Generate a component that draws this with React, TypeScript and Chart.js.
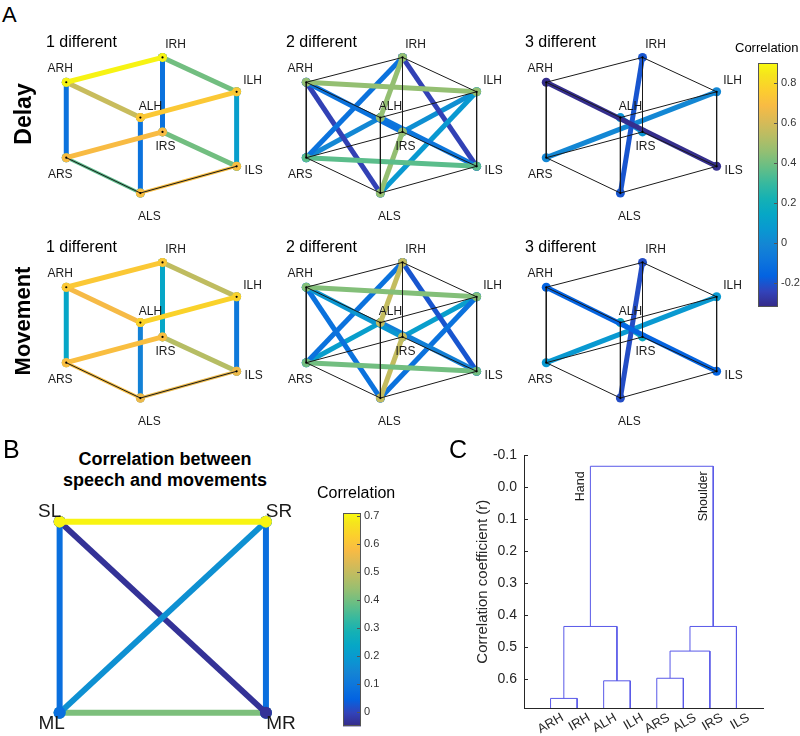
import React, { useEffect, useRef } from 'react';
import { Chart, registerables } from 'chart.js';

Chart.register(...registerables);
const FONT = '"Liberation Sans", Arial, Helvetica, sans-serif';
Chart.defaults.font.family = FONT;

// ---------------- Panel A data ----------------
const nodeNames = ['ARH', 'IRH', 'ILH', 'ALH', 'IRS', 'ARS', 'ALS', 'ILS'];
const nodeX = [0, 1.0, 1.77, 0.77, 1.0, 0, 0.77, 1.77];
const nodeY = [1.16, 1.42, 1.06, 0.79, 0.64, 0.37, 0, 0.28];

const edges1 = [['ARH', 'IRH'], ['ALH', 'ILH'], ['ARS', 'IRS'], ['ALS', 'ILS'], ['ARH', 'ALH'], ['IRH', 'ILH'], ['ARS', 'ALS'], ['IRS', 'ILS'], ['ARH', 'ARS'], ['IRH', 'IRS'], ['ALH', 'ALS'], ['ILH', 'ILS']];
const edges2 = [['ARH', 'ILH'], ['ALH', 'IRH'], ['ARS', 'ILS'], ['ALS', 'IRS'], ['ARH', 'IRS'], ['IRH', 'ARS'], ['ALH', 'ILS'], ['ILH', 'ALS'], ['ARH', 'ALS'], ['ALH', 'ARS'], ['IRH', 'ILS'], ['ILH', 'IRS']];
const edges3 = [['ARH', 'ILS'], ['IRH', 'ALS'], ['ALH', 'IRS'], ['ILH', 'ARS']];

const delay1 = [0.88, 0.74, 0.69, 0.70, 0.57, 0.40, 0.36, 0.40, -0.10, -0.10, -0.10, 0.10];
const delay2 = [0.46, 0.46, 0.36, 0.46, -0.10, -0.10, -0.08, 0.07, -0.25, 0.00, -0.25, 0.03];
const delay3 = [-0.31, -0.20, 0.05, 0.00];
const move1 = [0.74, 0.78, 0.70, 0.66, 0.68, 0.55, 0.70, 0.53, 0.14, 0.14, -0.03, -0.07];
const move2 = [0.43, 0.56, 0.40, 0.56, 0.06, -0.10, -0.04, -0.10, -0.10, 0.10, -0.20, 0.10];
const move3 = [-0.16, -0.22, 0.17, 0.07];

const corrRangeA = [-0.32, 0.9];
const corrTicksA = [-0.2, 0, 0.2, 0.4, 0.6, 0.8];
const panelTitles = ['1 different', '2 different', '3 different'];
const rowTitles = ['Delay', 'Movement'];

// ---------------- Panel B data ----------------
const nodeNamesB = ['SL', 'SR', 'ML', 'MR'];
const nodeXB = [0, 1, 0, 1];
const nodeYB = [1, 1, 0, 0];
const edgesB = [['SL', 'SR'], ['SL', 'ML'], ['SR', 'ML'], ['SL', 'MR'], ['SR', 'MR'], ['ML', 'MR']];
const valuesB = [0.70, 0.08, 0.17, -0.035, 0.08, 0.41];
const corrRangeB = [-0.05, 0.71];
const corrTicksB = [0, 0.1, 0.2, 0.3, 0.4, 0.5, 0.6, 0.7];
const titleB = ['Correlation between', 'speech and movements'];

// ---------------- Panel C data ----------------
const leafLabels = ['ARH', 'IRH', 'ALH', 'ILH', 'ARS', 'ALS', 'IRS', 'ILS'];
const mergeA = [0, 2, 4, 10, 11, 8, 13];
const mergeB = [1, 3, 5, 6, 7, 9, 12];
const mergeHeight = [0.66, 0.605, 0.597, 0.512, 0.435, 0.435, -0.066];
const leafLevel = 0.69;
const yRangeC = [-0.1, 0.69];
const yTicksC = [-0.1, 0, 0.1, 0.2, 0.3, 0.4, 0.5, 0.6];
const groupLabels = ['Hand', 'Shoulder'];
const groupCluster = [13, 12];

// ---------------- colormap ----------------
const parulaRGB = [
  [0.2081, 0.1663, 0.5292], [0.1959, 0.2645, 0.7279], [0.0117, 0.3875, 0.8820], [0.0498, 0.4586, 0.8641],
  [0.0793, 0.5200, 0.8312], [0.0343, 0.5966, 0.8199], [0.0228, 0.6535, 0.7768], [0.0843, 0.6928, 0.7062],
  [0.2178, 0.7250, 0.6193], [0.3953, 0.7459, 0.5244], [0.5709, 0.7485, 0.4494], [0.7184, 0.7411, 0.3905],
  [0.8507, 0.7299, 0.3360], [0.9739, 0.7314, 0.2666], [0.9880, 0.8066, 0.1794], [0.9589, 0.8949, 0.1132],
  [0.9763, 0.9831, 0.0538],
];
const parulaPos = [0, 4, 8, 12, 16, 20, 24, 28, 32, 36, 40, 44, 48, 52, 56, 60, 63].map((i) => i / 63);

function parula(t: number): string {
  const u = Math.max(0, Math.min(1, t));
  let k = 0;
  while (k < parulaPos.length - 2 && u > parulaPos[k + 1]) k++;
  const f = (u - parulaPos[k]) / (parulaPos[k + 1] - parulaPos[k]);
  const a = parulaRGB[k], b = parulaRGB[k + 1];
  const c = a.map((v, j) => Math.round(255 * (v + (b[j] - v) * f)));
  return `rgb(${c[0]},${c[1]},${c[2]})`;
}

// ---------------- styles ----------------
const labelOffsetA: Record<string, [number, number]> = {
  ARH: [-6, -14], IRH: [13, -13], ILH: [16, -11], ALH: [10, -11],
  IRS: [3, 15], ARS: [-6, 17], ALS: [9, 24], ILS: [17, 4],
};
const labelOffsetB: Record<string, [number, number]> = { SL: [-10, -10], SR: [13, -10], ML: [-8, 11], MR: [15, 11] };
const thinEdgesA = ['ARS-ALS', 'ALS-ILS'];
const WIRE = '#1a1a1a';
const AXIS = '#262626';

function nodeLabelPlugin(names: string[], xs: number[], ys: number[], offsets: Record<string, [number, number]>, font: string, color: string) {
  return {
    id: 'nodeLabels',
    afterDatasetsDraw(chart: any) {
      const { ctx, scales } = chart;
      ctx.save();
      ctx.font = font;
      ctx.fillStyle = color;
      ctx.textAlign = 'center';
      ctx.textBaseline = 'middle';
      names.forEach((n, i) => {
        const [dx, dy] = offsets[n];
        ctx.fillText(n, scales.x.getPixelForValue(xs[i]) + dx, scales.y.getPixelForValue(ys[i]) + dy);
      });
      ctx.restore();
    },
  };
}

const baseOptions = {
  responsive: false,
  animation: false,
  events: [],
  plugins: { legend: { display: false }, tooltip: { enabled: false }, title: { display: false } },
};

function graphConfig(names: string[], xs: number[], ys: number[], edges: string[][], vals: number[], range: number[],
  opts: { level: number; width: number; radius: number; xr: number[]; yr: number[]; offsets: Record<string, [number, number]>; font: string; wire: boolean }) {
  const P = (n: string) => { const i = names.indexOf(n); return { x: xs[i], y: ys[i] }; };
  const datasets: any[] = [];
  datasets.push({ data: names.map((n) => P(n)), showLine: false, pointRadius: opts.wire ? 1.1 : 0, pointBackgroundColor: '#000', pointBorderWidth: 0, order: 0 });
  const wire = (e: string[], order: number) => ({ data: [P(e[0]), P(e[1])], showLine: true, borderColor: WIRE, borderWidth: 1, pointRadius: 0, order });
  if (opts.wire) {
    if (opts.level === 1) {
      edges1.filter((e) => thinEdgesA.includes(e.join('-'))).forEach((e) => datasets.push(wire(e, 1)));
      edges1.forEach((e) => datasets.push(wire(e, 3)));
    } else {
      edges1.forEach((e) => datasets.push(wire(e, 1)));
    }
  }
  edges.forEach((e, i) => {
    const c = parula((vals[i] - range[0]) / (range[1] - range[0]));
    const thin = opts.level === 1 && thinEdgesA.includes(e.join('-'));
    datasets.push({
      data: [P(e[0]), P(e[1])], showLine: true, borderColor: c, borderWidth: thin ? 3 : opts.width,
      pointRadius: opts.radius, pointBackgroundColor: c, pointBorderWidth: 0, order: 2,
    });
  });
  return {
    type: 'scatter',
    data: { datasets },
    options: {
      ...baseOptions,
      layout: { padding: 0 },
      scales: {
        x: { type: 'linear', min: opts.xr[0], max: opts.xr[1], display: false },
        y: { type: 'linear', min: opts.yr[0], max: opts.yr[1], display: false },
      },
    },
    plugins: [nodeLabelPlugin(names, xs, ys, opts.offsets, opts.font, '#1a1a1a')],
  };
}

function colorbarConfig(range: number[], ticks: number[], axisWidth: number, pad: { left: number; top: number; bottom: number }) {
  const frame = {
    id: 'cbFrame',
    afterDatasetsDraw(chart: any) {
      const { ctx, chartArea: a, scales } = chart;
      ctx.save();
      ctx.strokeStyle = '#555';
      ctx.lineWidth = 1;
      ctx.strokeRect(Math.round(a.left) + 0.5, Math.round(a.top) + 0.5, Math.round(a.right - a.left) - 1, Math.round(a.bottom - a.top) - 1);
      ctx.beginPath();
      ticks.forEach((t) => {
        const py = Math.round(scales.y.getPixelForValue(t)) + 0.5;
        ctx.moveTo(a.right - 4, py);
        ctx.lineTo(a.right, py);
      });
      ctx.stroke();
      ctx.restore();
    },
  };
  return {
    type: 'bar',
    data: {
      labels: [''],
      datasets: [{
        data: [[range[0], range[1]]],
        barPercentage: 1, categoryPercentage: 1, borderWidth: 0,
        backgroundColor: (c: any) => {
          const ch = c.chart;
          if (!ch.chartArea || !ch.scales.y) return parula(0.5);
          const y = ch.scales.y;
          const g = ch.ctx.createLinearGradient(0, y.getPixelForValue(range[0]), 0, y.getPixelForValue(range[1]));
          parulaRGB.forEach((rgb, i) => g.addColorStop(parulaPos[i], `rgb(${rgb.map((v) => Math.round(v * 255)).join(',')})`));
          return g;
        },
      }],
    },
    options: {
      ...baseOptions,
      layout: { padding: { left: pad.left, top: pad.top, bottom: pad.bottom, right: 0 } },
      scales: {
        x: { display: false },
        y: {
          position: 'right', min: range[0], max: range[1],
          afterBuildTicks: (s: any) => { s.ticks = ticks.map((v) => ({ value: v })); },
          afterFit: (s: any) => { s.width = axisWidth; },
          grid: { display: false, drawTicks: false },
          border: { display: false },
          ticks: { padding: 3, font: { size: 11 }, color: '#333', callback: (v: any) => (Number(v) === 0 ? '0' : Number(v).toFixed(1)) },
        },
      },
    },
    plugins: [frame],
  };
}

function dendrogram() {
  const pos: number[] = leafLabels.map((_, i) => i + 1);
  const hgt: number[] = leafLabels.map(() => leafLevel);
  const segs = mergeA.map((a, k) => {
    const b = mergeB[k];
    const h = mergeHeight[k];
    const seg = [{ x: pos[a], y: hgt[a] }, { x: pos[a], y: h }, { x: pos[b], y: h }, { x: pos[b], y: hgt[b] }];
    pos.push((pos[a] + pos[b]) / 2);
    hgt.push(h);
    return seg;
  });
  return { segs, pos, hgt };
}

function dendroConfig() {
  const { segs, pos } = dendrogram();
  const groupPlugin = {
    id: 'groups',
    afterDatasetsDraw(chart: any) {
      const { ctx, scales } = chart;
      ctx.save();
      ctx.font = `12.5px ${FONT}`;
      ctx.fillStyle = '#1a1a1a';
      ctx.textAlign = 'right';
      ctx.textBaseline = 'middle';
      groupLabels.forEach((lab, i) => {
        const cl = groupCluster[i];
        const k = mergeA.indexOf(cl) >= 0 ? mergeA.indexOf(cl) : mergeB.indexOf(cl);
        const px = scales.x.getPixelForValue(pos[cl]) - 10;
        const py = scales.y.getPixelForValue(mergeHeight[k]) + 5;
        ctx.save();
        ctx.translate(px, py);
        ctx.rotate(-Math.PI / 2);
        ctx.fillText(lab, 0, 0);
        ctx.restore();
      });
      // inner y ticks
      const a = chart.chartArea;
      ctx.strokeStyle = AXIS;
      ctx.lineWidth = 1;
      ctx.beginPath();
      yTicksC.forEach((t) => {
        const py = Math.round(scales.y.getPixelForValue(t)) + 0.5;
        ctx.moveTo(a.left, py);
        ctx.lineTo(a.left + 4, py);
      });
      ctx.stroke();
      ctx.restore();
    },
  };
  return {
    type: 'scatter',
    data: {
      datasets: segs.map((s) => ({ data: s, showLine: true, borderColor: 'rgb(88,88,232)', borderWidth: 1, pointRadius: 0 })),
    },
    options: {
      ...baseOptions,
      layout: { padding: { top: 10, right: 37, left: 0, bottom: 0 } },
      scales: {
        x: {
          type: 'linear', min: 0, max: leafLabels.length + 1,
          afterBuildTicks: (s: any) => { s.ticks = leafLabels.map((_, i) => ({ value: i + 1 })); },
          afterFit: (s: any) => { s.height = 28; },
          grid: { display: false, drawTicks: false },
          border: { display: true, color: AXIS, width: 1 },
          ticks: {
            autoSkip: false, minRotation: 30, maxRotation: 30, padding: 2, labelOffset: 12,
            font: { size: 13 }, color: AXIS,
            callback: (v: any) => leafLabels[Math.round(Number(v)) - 1] ?? '',
          },
        },
        y: {
          type: 'linear', reverse: true, min: yRangeC[0], max: yRangeC[1],
          afterBuildTicks: (s: any) => { s.ticks = yTicksC.map((v) => ({ value: v })); },
          afterFit: (s: any) => { s.width = 54; },
          grid: { display: false, drawTicks: false },
          border: { display: true, color: AXIS, width: 1 },
          ticks: { padding: 7, font: { size: 14 }, color: AXIS, callback: (v: any) => Number(v).toFixed(1) },
          title: { display: true, text: 'Correlation coefficient (r)', font: { size: 15 }, color: AXIS, padding: { top: 4, bottom: 4 } },
        },
      },
    },
    plugins: [groupPlugin],
  };
}

function ChartCanvas({ left, top, width, height, make }: { left: number; top: number; width: number; height: number; make: () => any }) {
  const ref = useRef<HTMLCanvasElement>(null);
  useEffect(() => {
    const ch = new Chart(ref.current as HTMLCanvasElement, make());
    return () => ch.destroy();
  }, []);
  return <canvas ref={ref} width={width} height={height} style={{ position: 'absolute', left, top, width, height }} />;
}

function Txt({ x, y, size, bold, children, center }: { x: number; y: number; size: number; bold?: boolean; children: any; center?: boolean }) {
  return (
    <div style={{
      position: 'absolute', left: x, top: y - 0.8465 * size, fontSize: size, lineHeight: 1,
      fontWeight: bold ? 'bold' : 'normal', whiteSpace: 'nowrap', color: '#000',
      transform: center ? 'translateX(-50%)' : undefined,
    }}>{children}</div>
  );
}

function RotTxt({ x, y, size, children }: { x: number; y: number; size: number; children: any }) {
  return (
    <div style={{
      position: 'absolute', left: x, top: y, fontSize: size, lineHeight: 1, fontWeight: 'bold', whiteSpace: 'nowrap',
      color: '#000', transform: 'translate(-50%,-50%) rotate(-90deg)',
    }}>{children}</div>
  );
}

const panelData = [
  [[edges1, delay1], [edges2, delay2], [edges3, delay3]],
  [[edges1, move1], [edges2, move2], [edges3, move3]],
];

export default function App() {
  const cubes: any[] = [];
  panelData.forEach((row, r) => {
    row.forEach(([edges, vals], c) => {
      cubes.push(
        <ChartCanvas key={`p${r}${c}`} left={30 + 240 * c} top={30 + 205 * r} width={240} height={200}
          make={() => graphConfig(nodeNames, nodeX, nodeY, edges as string[][], vals as number[], corrRangeA, {
            level: c + 1, width: 5, radius: 4.5, xr: [-0.33, 2.07], yr: [-0.34, 1.66],
            offsets: labelOffsetA, font: `12px ${FONT}`, wire: true,
          })} />
      );
    });
  });
  return (
    <div style={{ position: 'absolute', left: 0, top: 0, width: 800, height: 736, overflow: 'hidden', background: '#fff', fontFamily: FONT }}>
      {cubes}
      <ChartCanvas left={750} top={53} width={50} height={264} make={() => colorbarConfig(corrRangeA, corrTicksA, 22, { left: 8, top: 10, bottom: 10 })} />
      <ChartCanvas left={20} top={490} width={300} height={246}
        make={() => graphConfig(nodeNamesB, nodeXB, nodeYB, edgesB, valuesB, corrRangeB, {
          level: 0, width: 6, radius: 6, xr: [-0.163, 1.233], yr: [-0.0896, 1.134],
          offsets: labelOffsetB, font: `19px ${FONT}`, wire: false,
        })} />
      <ChartCanvas left={335} top={503} width={65} height={233} make={() => colorbarConfig(corrRangeB, corrTicksB, 39, { left: 8, top: 10, bottom: 7 })} />
      <ChartCanvas left={470} top={440} width={330} height={296} make={dendroConfig} />

      <Txt x={2} y={23} size={22}>A</Txt>
      <RotTxt x={23} y={114} size={23}>{rowTitles[0]}</RotTxt>
      <RotTxt x={23} y={321} size={22}>{rowTitles[1]}</RotTxt>
      {panelTitles.map((t, c) => <Txt key={`t0${c}`} x={46 + 240 * c - (c === 2 ? 1 : 0)} y={48} size={16}>{t}</Txt>)}
      {panelTitles.map((t, c) => <Txt key={`t1${c}`} x={46 + 240 * c - (c === 2 ? 1 : 0)} y={253} size={16}>{t}</Txt>)}
      <Txt x={735} y={52} size={13}>Correlation</Txt>

      <Txt x={3} y={458} size={25}>B</Txt>
      <Txt x={165} y={465} size={18} bold center>{titleB[0]}</Txt>
      <Txt x={165} y={486} size={18} bold center>{titleB[1]}</Txt>
      <Txt x={317} y={499} size={16}>Correlation</Txt>

      <Txt x={449} y={458} size={25}>C</Txt>
    </div>
  );
}
